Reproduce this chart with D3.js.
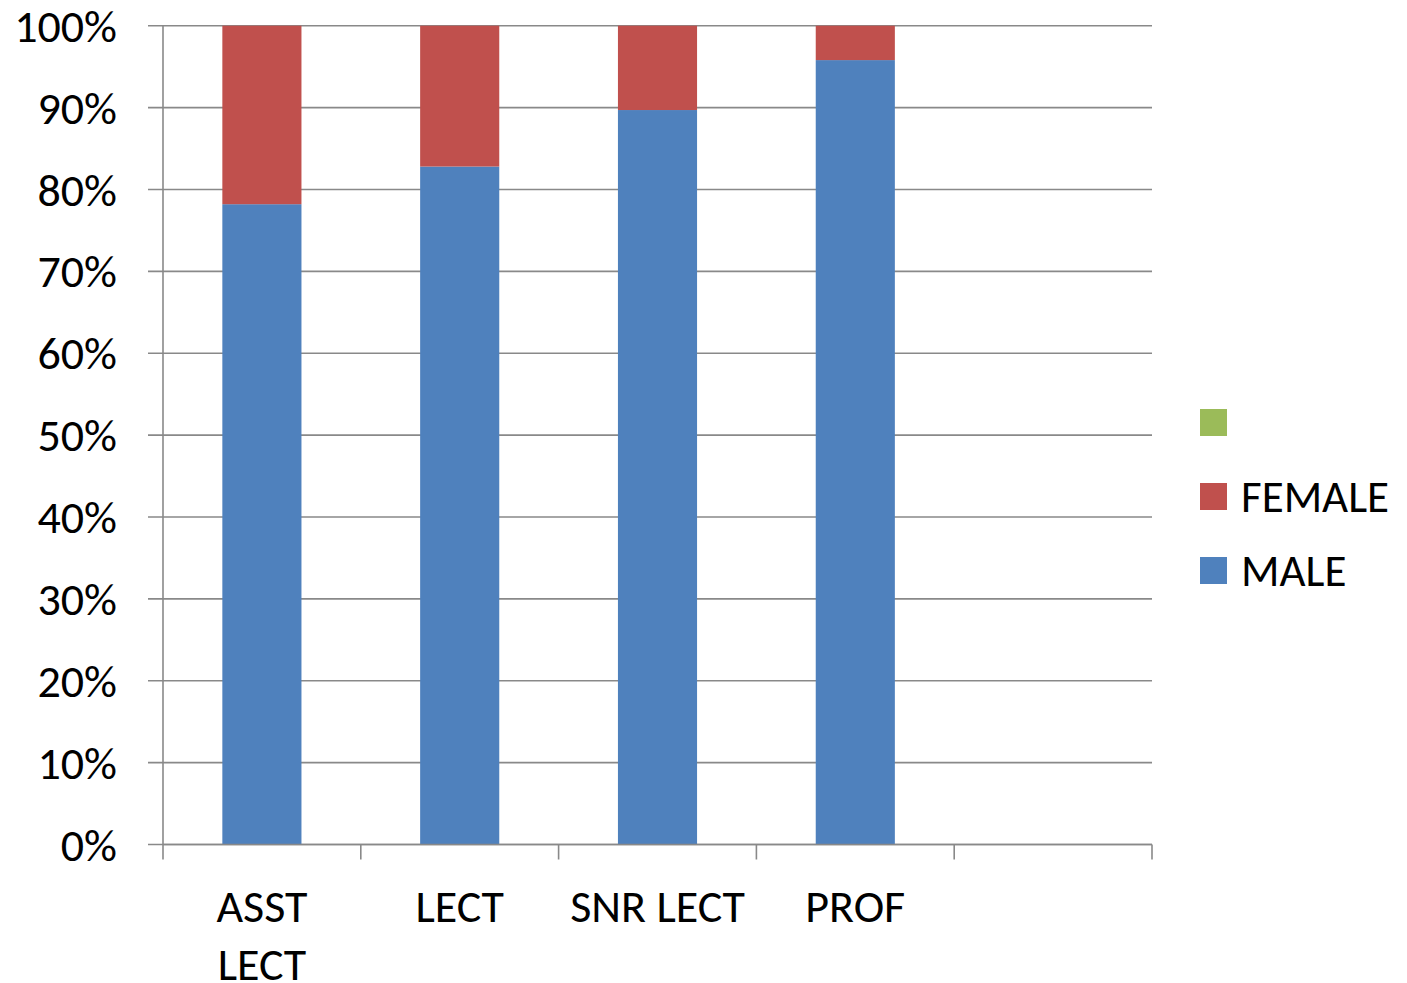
<!DOCTYPE html>
<html>
<head>
<meta charset="utf-8">
<script src="https://cdn.jsdelivr.net/npm/d3@7"></script>
<style>
  html, body { margin: 0; padding: 0; background: #fff; }
  svg { display: block; }
  text { font-family: Carlito, Lato, "Open Sans", sans-serif; fill: #000; }
</style>
</head>
<body>
<svg id="chart" width="1407" height="983"></svg>
<script>
// Staff grades (last slot left empty) and share of each gender, in percent
const categories = ["ASST LECT", "LECT", "SNR LECT", "PROF", ""];
const maleValues = [78.2, 82.8, 89.7, 95.8, null];
const femaleValues = [21.8, 17.2, 10.3, 4.2, null];
const blankValues = [0, 0, 0, 0, null];
const seriesNames = ["MALE", "FEMALE", ""];
const seriesColors = ["#4F81BD", "#C0504D", "#9BBB59"];
const yTicks = [0, 10, 20, 30, 40, 50, 60, 70, 80, 90, 100];

const svg = d3.select("#chart");
const plot = { left: 163, right: 1152, top: 25.7, bottom: 844.5 };

const x = d3.scaleBand()
  .domain(categories.map((c, i) => i))
  .range([plot.left, plot.right])
  .paddingInner(0.6)
  .paddingOuter(0.3);
const step = x.step();

const y = d3.scaleLinear().domain([0, 100]).range([plot.bottom, plot.top]);

const gridColor = "#898989";

// horizontal gridlines, including the short tick stub left of the axis
svg.append("g")
  .selectAll("line")
  .data(yTicks)
  .join("line")
  .attr("x1", plot.left - 15)
  .attr("x2", plot.right)
  .attr("y1", d => y(d))
  .attr("y2", d => y(d))
  .attr("stroke", gridColor)
  .attr("stroke-width", 1.6);

// stacked bars
const rows = categories.map((c, i) => ({
  i, MALE: maleValues[i], FEMALE: femaleValues[i], BLANK: blankValues[i]
})).filter(r => r.MALE != null);

const stack = d3.stack().keys(["MALE", "FEMALE", "BLANK"]);
const layers = stack(rows);

svg.append("g")
  .selectAll("g")
  .data(layers)
  .join("g")
  .attr("fill", (d, k) => seriesColors[k])
  .selectAll("rect")
  .data(d => d)
  .join("rect")
  .attr("x", d => x(d.data.i))
  .attr("width", x.bandwidth())
  .attr("y", d => y(d[1]))
  .attr("height", d => y(d[0]) - y(d[1]));

// vertical axis line
svg.append("line")
  .attr("x1", plot.left).attr("x2", plot.left)
  .attr("y1", plot.top).attr("y2", plot.bottom)
  .attr("stroke", gridColor).attr("stroke-width", 1.6);

// horizontal axis line and category boundary ticks
svg.append("line")
  .attr("x1", plot.left).attr("x2", plot.right)
  .attr("y1", plot.bottom).attr("y2", plot.bottom)
  .attr("stroke", gridColor).attr("stroke-width", 1.6);

const boundaries = d3.range(categories.length + 1).map(k => plot.left + k * step);
svg.append("g")
  .selectAll("line")
  .data(boundaries)
  .join("line")
  .attr("x1", d => d).attr("x2", d => d)
  .attr("y1", plot.bottom).attr("y2", plot.bottom + 15)
  .attr("stroke", gridColor).attr("stroke-width", 1.6);

// y tick labels
svg.append("g")
  .selectAll("text")
  .data(yTicks)
  .join("text")
  .attr("x", 117)
  .attr("y", d => y(d))
  .attr("dy", "0.35em")
  .attr("text-anchor", "end")
  .style("font-size", "46px")
  .text(d => d + "%");

// category labels, wrapped onto two lines when wider than the wrap width
const wrapWidth = 178;
const xLabels = svg.append("g");
categories.forEach((c, i) => {
  if (!c) return;
  const cx = x(i) + x.bandwidth() / 2;
  const t = xLabels.append("text")
    .attr("x", cx)
    .attr("y", 922)
    .attr("text-anchor", "middle")
    .style("font-size", "46px")
    .text(c);
  if (t.node().getComputedTextLength() > wrapWidth) {
    const words = c.split(" ");
    t.text(null);
    words.forEach((w, k) => {
      t.append("tspan")
        .attr("x", cx)
        .attr("y", 922 + k * 58)
        .text(w);
    });
  }
});

// legend (listed top to bottom in reverse series order)
const legendOrder = [2, 1, 0];
const legend = svg.append("g");
legendOrder.forEach((s, k) => {
  const top = 409 + k * 74;
  legend.append("rect")
    .attr("x", 1200).attr("y", top)
    .attr("width", 27).attr("height", 27)
    .attr("fill", seriesColors[s]);
  legend.append("text")
    .attr("x", 1241)
    .attr("y", top + 13.5)
    .attr("dy", "0.35em")
    .style("font-size", "45px")
    .text(seriesNames[s]);
});
</script>
</body>
</html>
